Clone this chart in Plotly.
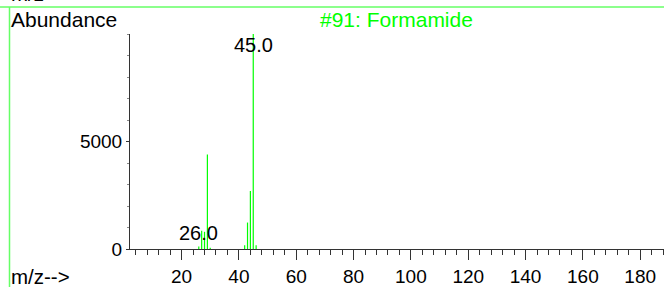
import plotly.graph_objects as go

# ---- data ----
mz = [26, 27, 28, 29, 30, 42, 43, 44, 45, 46]
abundance = [120, 850, 800, 4400, 60, 170, 1230, 2700, 9999, 180]
peak_labels_mz = [45, 26]
peak_labels_text = ["45.0", "26.0"]
title_text = "#91: Formamide"
x_ticks = [20, 40, 60, 80, 100, 120, 140, 160, 180]
y_ticks = [0, 5000]

W, H = 664, 287
L, R, T, B = 130, 0, 34, 38
GREEN = "#00ff00"
FONT = "Liberation Sans, Arial, sans-serif"

# stick spectrum: one vertical segment per peak, built from the data arrays
stick_x, stick_y = [], []
for m, a in zip(mz, abundance):
    stick_x += [m, m, None]
    stick_y += [0, a, None]

fig = go.Figure()
fig.add_trace(go.Scatter(x=stick_x, y=stick_y, mode="lines",
                         line=dict(color=GREEN, width=1.2),
                         hoverinfo="x+y"))

# pixel helpers for paper coords
def px_x(p):
    return (p - L) / (W - L - R)

def px_y(p):
    return (H - B - p) / (H - T - B)

annotations = [
    dict(text=peak_labels_text[0], x=peak_labels_mz[0], y=9480, xref="x", yref="y",
         showarrow=False, font=dict(size=20, color="black", family=FONT),
         xanchor="center", yanchor="middle"),
    dict(text=peak_labels_text[1], x=peak_labels_mz[1], y=760, xref="x", yref="y",
         showarrow=False, font=dict(size=20, color="black", family=FONT),
         xanchor="center", yanchor="middle"),
    dict(text=title_text, x=px_x(396), y=px_y(20), xref="paper", yref="paper",
         showarrow=False, font=dict(size=21, color=GREEN, family=FONT),
         xanchor="center", yanchor="middle"),
    dict(text="Abundance", x=px_x(9), y=px_y(20), xref="paper", yref="paper",
         showarrow=False, font=dict(size=21, color="black", family=FONT),
         xanchor="left", yanchor="middle"),
    dict(text="m/z-->", x=px_x(9), y=px_y(276), xref="paper", yref="paper",
         showarrow=False, font=dict(size=20.5, color="black", family=FONT),
         xanchor="left", yanchor="middle"),
    dict(text="m/z-->", x=px_x(9), y=px_y(-6), xref="paper", yref="paper",
         showarrow=False, font=dict(size=20.5, color="black", family=FONT),
         xanchor="left", yanchor="middle"),
]

shapes = [
    dict(type="line", xref="paper", yref="paper",
         x0=px_x(0), x1=px_x(W), y0=px_y(7), y1=px_y(7),
         line=dict(color="#66ff66", width=1.5)),
    dict(type="line", xref="paper", yref="paper",
         x0=px_x(9.5), x1=px_x(9.5), y0=px_y(7), y1=px_y(H + 2),
         line=dict(color="#66ff66", width=1.5)),
]

fig.update_layout(
    width=W, height=H,
    margin=dict(l=L, r=R, t=T, b=B, pad=0),
    paper_bgcolor="white", plot_bgcolor="white",
    showlegend=False,
    font=dict(family=FONT, size=19, color="black"),
    annotations=annotations,
    shapes=shapes,
    xaxis=dict(range=[2, 188.3], tickmode="array", tickvals=x_ticks,
               ticktext=[str(v) for v in x_ticks],
               ticks="outside", ticklen=10, tickwidth=1, tickcolor="#333",
               minor=dict(dtick=4, tick0=0, ticks="outside", ticklen=5,
                          tickwidth=1, tickcolor="#333"),
               showline=True, linecolor="#333", linewidth=1,
               showgrid=False, zeroline=False,
               tickfont=dict(size=19, family=FONT, color="black")),
    yaxis=dict(range=[0, 10000], tickmode="array", tickvals=y_ticks,
               ticktext=[str(v) for v in y_ticks],
               ticks="outside", ticklen=3, tickwidth=1, tickcolor="#333",
               minor=dict(dtick=1000, tick0=0, ticks="outside", ticklen=2,
                          tickwidth=1, tickcolor="#888"),
               showline=True, linecolor="#333", linewidth=1,
               showgrid=False, zeroline=False,
               tickfont=dict(size=19, family=FONT, color="black")),
)

fig.write_html("out.html",
               config={"displayModeBar": False},
               post_script="document.body.style.margin='0';"
                           "document.body.style.overflow='hidden';")
